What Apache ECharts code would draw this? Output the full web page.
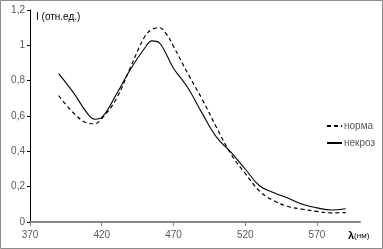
<!DOCTYPE html>
<html>
<head>
<meta charset="utf-8">
<script src="https://cdn.jsdelivr.net/npm/echarts@6/dist/echarts.min.js"></script>
<style>
  html, body { margin: 0; padding: 0; background: #fff; }
  #chart { width: 383px; height: 249px; }
</style>
</head>
<body>
<div id="chart"></div>
<script>
// wavelengths, nm
var wavelengths = [390, 400, 410, 415, 420, 430, 440, 450, 455, 460, 465, 470, 480, 490, 500, 510, 520, 530, 540, 550, 560, 570, 580, 590];
// norma (dashed)
var normaValues = [0.715, 0.62, 0.56, 0.556, 0.585, 0.695, 0.875, 1.05, 1.09, 1.10, 1.065, 0.995, 0.84, 0.695, 0.535, 0.385, 0.275, 0.175, 0.12, 0.088, 0.072, 0.06, 0.052, 0.053];
// nekroz (solid)
var nekrozValues = [0.84, 0.735, 0.615, 0.582, 0.592, 0.72, 0.865, 0.985, 1.025, 1.015, 0.95, 0.87, 0.76, 0.615, 0.48, 0.395, 0.3, 0.205, 0.165, 0.135, 0.10, 0.08, 0.068, 0.075];
var xTicks = [370, 420, 470, 520, 570];
var seriesNames = ['норма', 'некроз'];

var font = 'Liberation Sans';

function pairs(vals) {
  return vals.map(function (v, i) { return [wavelengths[i], v]; });
}

var chart = echarts.init(document.getElementById('chart'), null, { renderer: 'canvas' });

var option = {
  animation: false,
  backgroundColor: '#fff',
  grid: { left: 30, right: 23, top: 10, bottom: 27, containLabel: false },
  legend: {
    orient: 'vertical',
    left: 321,
    top: 116,
    itemWidth: 15,
    itemHeight: 8,
    itemGap: 7,
    data: seriesNames,
    itemStyle: { opacity: 0 },
    textStyle: { fontFamily: font, fontSize: 10, color: '#595959', padding: [0, 0, 0, -3] }
  },
  xAxis: {
    type: 'value',
    min: 370,
    max: 600,
    axisLine: { lineStyle: { color: '#868686', width: 2 } },
    axisTick: { customValues: xTicks, length: 4, lineStyle: { color: '#868686', width: 1 } },
    axisLabel: { customValues: xTicks, fontFamily: font, fontSize: 10, color: '#595959', margin: 8 },
    splitLine: { show: false }
  },
  yAxis: {
    type: 'value',
    min: 0,
    max: 1.2,
    interval: 0.2,
    axisLine: { show: true, lineStyle: { color: '#000', width: 1 } },
    axisTick: { show: true, length: 3, lineStyle: { color: '#000' } },
    axisLabel: {
      fontFamily: font, fontSize: 10, color: '#595959', margin: 5,
      formatter: function (v) { return String(Math.round(v * 10) / 10).replace('.', ','); }
    },
    splitLine: { show: false }
  },
  series: [
    {
      name: seriesNames[0],
      type: 'line',
      smooth: 0.4,
      symbol: 'none',
      color: '#000',
      lineStyle: { color: '#000', width: 1.2, type: [4, 3] },
      data: pairs(normaValues)
    },
    {
      name: seriesNames[1],
      type: 'line',
      smooth: 0.4,
      symbol: 'none',
      color: '#000',
      lineStyle: { color: '#000', width: 1.1 },
      data: pairs(nekrozValues)
    }
  ],
  graphic: [
    {
      type: 'rect',
      shape: { x: 0.5, y: 0.5, width: 382, height: 248 },
      style: { fill: null, stroke: '#8c8c8c', lineWidth: 1 },
      silent: true
    },
    {
      type: 'text',
      left: 36,
      top: 12,
      style: { text: 'I (отн.ед.)', font: '10px ' + font, fill: '#000' }
    },
    {
      type: 'text',
      left: 348,
      top: 230,
      style: {
        text: '{b|λ}{n|(нм)}',
        rich: {
          b: { fontFamily: font, fontSize: 11, fontWeight: 'bold', fill: '#000' },
          n: { fontFamily: font, fontSize: 8, fill: '#000' }
        }
      }
    }
  ]
};

chart.setOption(option);
</script>
</body>
</html>
